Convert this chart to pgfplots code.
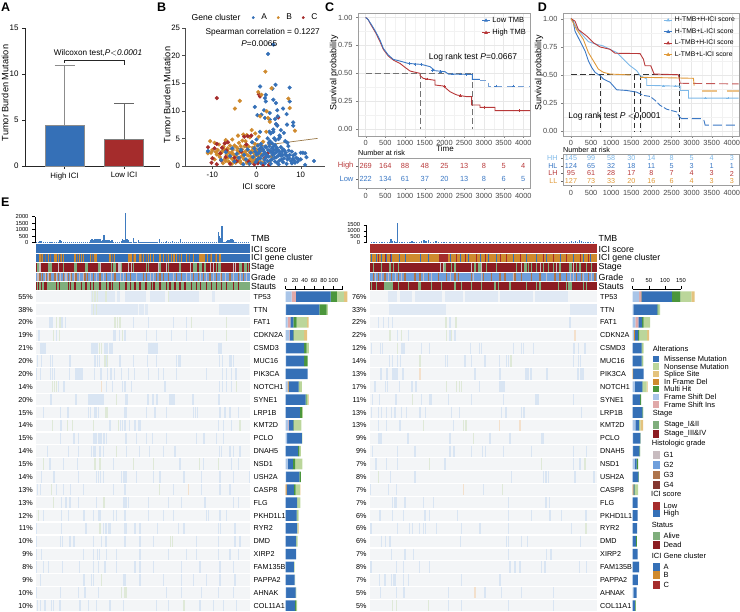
\documentclass[border=0pt]{standalone}
\usepackage{pgfplots}
\pgfplotsset{compat=1.18}
\usepackage{pgfplotstable}
\usepackage{fontspec}
\setmainfont{Liberation Sans}
\newcommand\fz[1]{\fontsize{#1}{#1}\selectfont}

\definecolor{mblue}{HTML}{3570B7}
\definecolor{mred}{HTML}{A52C2C}
\definecolor{dred}{HTML}{8C1C22}
\definecolor{agreen}{HTML}{7FAE7C}
\definecolor{aorange}{HTML}{CF8A2E}
\definecolor{gtwo}{HTML}{6F9FDC}
\definecolor{gone}{HTML}{C8BCC0}
\definecolor{gthree}{HTML}{AE744C}
\definecolor{gfour}{HTML}{84362F}
\definecolor{nons}{HTML}{BBD69B}
\definecolor{spl}{HTML}{E4C37E}
\definecolor{multi}{HTML}{4B963C}
\definecolor{fsd}{HTML}{A9C5E8}
\definecolor{fsi}{HTML}{E0A9A9}
\definecolor{rowbg}{HTML}{F3F5F7}
\definecolor{ltb}{HTML}{D9E5F3}
\definecolor{bandb}{HTML}{E0E9F4}
\definecolor{ltg}{HTML}{DFE9D8}
\definecolor{lto}{HTML}{F3E0CC}
\definecolor{brg}{HTML}{8F6F55}
\definecolor{hhc}{HTML}{7DB8E8}
\definecolor{hlc}{HTML}{3B78C4}
\definecolor{lhc}{HTML}{B8393A}
\definecolor{llc}{HTML}{E09A3A}
\definecolor{tmbc}{HTML}{3F7BBF}

% stripes: colour, width, y, half height, x list
\newcommand\st[5]{%
  \def\tmp{}%
  \pgfplotsforeachungrouped \v in {#5}{\edef\tmp{\tmp (\v,#3)}}%
  \edef\doit{\noexpand\addplot[only marks,mark=|,mark size=#4pt,mark options={draw=#1,line width=#2pt},forget plot] coordinates {\tmp};}%
  \doit}
% one stripe set on a gene row
\newcommand\rw[4]{%
  \pgfmathsetmacro\yy{-(296.7+12.875*#2)}%
  \st{#1}{#4}{\yy}{5.6}{#3}}
% background band: colour, x0, x1, y0, y1
\newcommand\bg[5]{\addplot[fill=#1,draw=none,forget plot] coordinates {(#2,-#4)(#3,-#4)(#3,-#5)(#2,-#5)} --cycle;}

\pgfplotsset{
  every axis/.append style={scale only axis,/pgf/number format/assume math mode=true,/pgf/number format/fixed},
  km/.style={
    xmin=-195,xmax=4170,ymin=-0.06,ymax=1.04,
    xtick={0,500,...,4000},ytick={0,0.25,0.5,0.75,1},
    yticklabels={0.00,0.25,0.50,0.75,1.00},
    grid=both,minor x tick num=1,minor y tick num=1,minor tick length=0pt,
    major grid style={color=black!9,line width=.5pt},minor grid style={color=black!5,line width=.3pt},
    axis line style={color=black!38,line width=.9pt},
    tick style={color=black!50},major tick length=2pt,tick pos=left,tick align=outside,
    tick label style={font=\fz{7.4},text=black!72},
    scaled x ticks=false,x tick label style={/pgf/number format/1000 sep={},yshift=1.5pt},
    clip=true},
  risk/.style={
    xmin=-195,xmax=4170,ymin=0,ymax=1,
    xtick={0,500,...,4000},
    axis line style={color=black!38,line width=.9pt},
    tick style={color=black!60},major tick length=2pt,tick pos=left,tick align=outside,
    tick label style={font=\fz{7.4},text=black!72},
    scaled x ticks=false,x tick label style={/pgf/number format/1000 sep={}},
    point meta=explicit symbolic,clip=false},
  oncotop/.style={axis x line=none,axis y line=left,axis line style={-,line width=.8pt},tick style={black,line width=.7pt},
    tick align=outside,major tick length=3pt,tick label style={font=\fz{5.8}},ymin=0,clip=false,
    scaled y ticks=false,y tick label style={/pgf/number format/1000 sep={}}},
  track/.style={axis lines=none,ymin=-612,ymax=-243,clip=false},
  stackbar/.style={xbar stacked,bar width=10.6pt,axis y line=none,axis x line=top,axis line style={-,line width=.7pt},
    tick style={black,line width=.6pt},tick align=outside,major tick length=3pt,tick label style={font=\fz{5.8}},
    xmin=0,ymin=-24.5,ymax=.598,height=323pt,clip=false,ytick=\empty},
}

\pgfplotstableread{
row fd fi ifd mis mul non spl
0 12.6 9 0 73 13 15 7
1 1 0 0 70 15 3 0
2 4 6 0 6 7 22 3
3 7 1 0 8 1 22 6
4 1 0 0 38 5 5 0
5 1 0 0 38 7 0 0
6 0 0 0 46 0 0 0
7 4 0 2 21 1 6 0
8 0 0 0 42 2 3 1
9 0 0 0 30 4 2 0
10 5 1 0 10 1 16 0
11 3 0 0 31 0 1 0
12 0 0 0 26 3 3 0
13 4 0 0 11 5 15 0
14 1 0 0 28 3 0 0
15 0 0 2 15 4 9 1
16 0 0 0 24 0 7 0
17 0 0 0 23 1 3 0
18 0 0 0 24 0 1 2
19 0 0 0 22 0 3 0
20 0 0 0 22 0 0 0
21 0 0 0 17 0 2 0
22 0 0 0 19 0 1 0
23 1 0 0 20 1 0 0
24 0 0 0 20 2 2 0
}\lefttab
\pgfplotstableread{
row fd fi ifd mis mul non spl
0 20 5 2 95 26 34 10
1 2 0 0 75 3 5 0
2 8 10 0 11 5 20 0
3 4 0 3 10 3 25 6
4 0 0 0 28 1 5 0
5 0 0 0 28 2 3 0
6 0 0 1 33 0 0 0
7 7 0 0 23 1 12 3
8 0 0 0 23 3 0 0
9 0 0 0 30 2 0 0
10 8 0 0 11 2 3 8
11 1 0 0 23 0 1 0
12 1 0 0 20 2 0 0
13 7 0 0 5 5 0 0
14 0 0 0 18 1 0 0
15 0 0 2 3 2 10 0
16 0 0 0 15 0 0 0
17 0 0 0 15 0 0 0
18 0 0 0 14 0 0 0
19 0 0 0 10 3 0 0
20 0 0 0 15 0 0 0
21 0 0 0 20 0 0 0
22 0 0 0 16 0 0 0
23 2 0 0 10 0 0 0
24 0 0 0 7 2 1 0
}\righttab

\newcommand\stackrows[1]{%
  \addplot[fill=fsd,draw=none] table[x=fd,y expr=-\thisrow{row}]{#1};
  \addplot[fill=fsi,draw=none] table[x=fi,y expr=-\thisrow{row}]{#1};
  \addplot[fill=aorange,draw=none] table[x=ifd,y expr=-\thisrow{row}]{#1};
  \addplot[fill=mblue,draw=none] table[x=mis,y expr=-\thisrow{row}]{#1};
  \addplot[fill=multi,draw=none] table[x=mul,y expr=-\thisrow{row}]{#1};
  \addplot[fill=nons,draw=none] table[x=non,y expr=-\thisrow{row}]{#1};
  \addplot[fill=spl,draw=none] table[x=spl,y expr=-\thisrow{row}]{#1};
}

\begin{document}
\begin{tikzpicture}[x=1pt,y=1pt]
\path[use as bounding box] (0,0) rectangle (740,-612);

% ---- A
\begin{axis}[at={(25pt,-166pt)},anchor=south west,width=135pt,height=138pt,
  xmin=-0.664,xmax=1.605,ymin=0,ymax=15,
  axis lines=left,axis line style={-,line width=.7pt,color=black!85},
  ytick={0,5,10,15},xtick={0,1},xticklabels={High ICI,Low ICI},
  tick align=outside,tick style={color=black!85},major tick length=3pt,
  tick label style={font=\fz{7.8}},y tick label style={font=\fz{8}},
  ybar,bar width=39pt,clip=false]
\addplot[bar shift=0pt,fill=mblue,draw=black!45,line width=.8pt,
  error bars/.cd,y dir=plus,y explicit,error bar style={black!45,line width=1.2pt},error mark options={rotate=90,mark size=10pt,black!45,line width=.9pt}]
  coordinates {(0,4.4) +- (0,6.5)};
\addplot[bar shift=0pt,fill=mred,draw=black!50,line width=.8pt,
  error bars/.cd,y dir=plus,y explicit,error bar style={black!60,line width=.8pt},error mark options={rotate=90,mark size=10pt,black!60,line width=.8pt}]
  coordinates {(1,2.85) +- (0,3.95)};
\addplot[sharp plot,black!85,line width=.7pt] coordinates {(0,11.2)(0,11.45)(1,11.45)(1,11)};
\end{axis}

% ---- B
\begin{axis}[at={(185pt,-166pt)},anchor=south west,width=140pt,height=138pt,
  xmin=-16.2,xmax=15.5,ymin=0,ymax=25,
  axis lines=left,axis line style={-,line width=.7pt,color=black!70},
  ytick={0,5,...,25},xtick={-10,0,10},
  tick align=outside,tick style={color=black!70},major tick length=3pt,
  tick label style={font=\fz{7.8}},y tick label style={xshift=1.5pt},clip=false,
  legend columns=3,legend style={at={(.72,1.075)},anchor=center,draw=none,fill=none,font=\fz{8.4},
    /tikz/every even column/.append style={column sep=8pt},/tikz/every odd column/.append style={column sep=5pt}},
  legend cell align=left,
  legend image code/.code={\draw[#1] plot coordinates {(0pt,0pt)};}]
\addlegendimage{only marks,mark=*,mark size=1.2pt,color=mblue}\addlegendentry{A}
\addlegendimage{only marks,mark=*,mark size=1.2pt,color=aorange}\addlegendentry{B}
\addlegendimage{only marks,mark=*,mark size=1.2pt,color=mred}\addlegendentry{C}
\addplot[only marks,mark=*,mark size=1.9pt,color=aorange,forget plot] coordinates {
(-3.8,11.8)(-4.9,10.4)(-1.1,6.5)(-.3,5.9)(-1.5,5.2)(-2.2,5.6)(-3,5.7)(-4.2,5.5)(-5.5,4.8)(-7,4.7)(-10.5,4.5)(-9.5,4.2)(-8.5,3.9)(-7.5,3.5)(-6.5,3.2)(-5.7,2.4)(-5,3.7)(-4,4.2)(-3.3,3)(-2.5,4.5)(-1.8,3.5)(-1,2.8)(-.4,4)(.5,5.3)(1.5,4.4)(-11,2.3)(-10,2.9)(-9,2.1)(-8.3,1.6)(-7.8,2.6)(-7.2,1.2)(-6.8,2)(-6.3,.8)(-5.8,1.5)(-5.2,2.1)(-4.7,.6)(-4.3,2.8)(-3.8,1.5)(-3.5,.5)(-3,2.3)(-2.5,1.1)(-2.1,2.9)(-1.7,.4)(-1.3,1.7)(-.8,3.3)(-.3,1.9)(.2,2.5)(.7,.9)(1.2,2.9)(1.7,1.3)(2.3,2)(2.9,.8)(3.4,1.7)(-9.5,1.2)(-8.8,2.9)(-7.4,3.1)(-6,3.7)(-5.3,1.1)(-4.5,3.4)(-3.2,4.6)(-2.7,3.6)(-1.9,1.9)(-.6,.9)(.3,3.8)(-8,2.4)(-6.6,2.6)(-5.4,2.9)(-4.9,1.9)(-4.1,.9)(-3.6,3.6)(-2.3,2.1)(-1.5,2.5)(-1.1,.7)(-.1,3)
(-7.6,.5)(-7,.9)(-6.5,1.5)(-6.1,2.3)(-5.6,.4)(-5,1)(-4.4,1.6)(-4,2.4)(-3.7,.9)(-3.3,1.8)(-2.9,1.3)(-2.6,2.6)(-2.2,.6)(-1.6,1.1)(-1,1.4)(-.7,2.4)(-.2,1.2)(.4,1.7)(.9,2.2)(1.4,.6)(-9.2,2.5)(-8.6,2)(-10.3,2.4)};
\addplot[only marks,mark=*,mark size=1.9pt,color=mred,forget plot] coordinates {
(-9,12.3)(.8,12.6)(.5,13)(4.5,7.5)(4.9,8.8)(-11,3.4)(-10,1.4)(-9.5,3.2)(-9,4)(-8.2,2.3)(-7,1.6)(-7.2,4.1)(-6.5,4.3)(-6.8,2.8)(-6,.4)(-9,.3)(-5,1.5)(-4.5,.9)(-2.8,5.3)(-2.3,3.9)(-2,5.4)(-1.8,.8)(-1.2,5.5)(-.5,.3)(.3,.5)(1,3.3)(1.5,.2)(2,1.5)(2.5,2.3)(2.8,.2)(-3.5,2.6)(-8,1)(-7.8,3.3)(-10.2,.6)};
\addplot[only marks,mark=*,mark size=1.9pt,color=mblue,forget plot] coordinates {
(3.8,22)(2.6,20.3)(4.3,14.7)(7.5,14.2)(3.6,14)(.8,14.4)(2.1,12.9)(1.9,12.3)(2.1,11.7)(3.8,12)(4.4,11.4)(7.5,11.7)(-.4,10.7)(1.7,10.1)(3,9.6)(4.7,10.1)(6,10.4)(6.8,9.4)(.2,9.2)(1.1,9.3)(4.8,9)(4.2,8.5)(1.9,8.7)(3,8.4)(4.4,7.6)(6.9,7.5)(8.3,7.9)(8.3,7.3)(2.9,6.2)(3.8,6.2)(.8,6.2)
(0,4.8)(1,4)(2,3.5)(2.5,5)(3,4.5)(3.2,5.9)(3.5,3.2)(4,5)(4.2,3.8)(4.5,2.5)(5,4.9)(5.3,5.2)(5.5,3.4)(6,3)(6.5,4.5)(7,4.2)(7.3,2.8)(8,2.6)(8.3,1.9)(8.8,2.2)(9,1.5)(9.5,1.2)(10,2.4)(10.5,2.4)(11,2.3)(11.3,1.6)(11,.2)(13,.9)(10,1.2)(9.3,.8)(8.7,.6)(8.2,1.3)(7.8,.9)(7.5,2)(7,1.2)(6.8,.4)(6.5,2.1)(6.2,1.4)(6,.7)(5.8,2.6)(5.5,1.9)(5.2,1)(5,.3)(4.8,2.9)(4.5,1.6)(4.2,.8)(4,2.2)(3.8,3.5)(3.5,1.2)(3.2,.4)(3,2.8)(2.8,1.7)(2.5,.9)(2.2,3.4)(2,2.3)(1.8,1.1)(1.5,3)(1.3,1.9)(1,.5)(.8,2.7)(.5,1.4)(.3,3.7)(0,2.1)(-.2,.7)(-.5,3.2)(-.8,1.6)(-1,4.3)(-1.3,2.4)(-1.6,.4)(-2,3)(-2.4,1.2)(-2.8,2)(-3,.3)(-3.5,2.9)(-4,1.5)(-4.5,2.2)(-5,.8)(-5.5,3.2)(-6,1.8)(-7,2.5)(-8,1.1)(-11,2.7)(6.2,6)(5.5,6.5)(4.7,7.3)(3.8,6.6)(5.2,5.5)(4.3,4.7)(3.5,4.1)(2.8,4.2)(7.2,3.6)(6.6,2.4)(5.9,2)(5.1,2.7)(4.6,3.3)(3.9,2.9)(3.3,2.5)(2.6,2.9)(2.1,1.5)(1.6,2.1)(1.1,3.4)(.6,3)(.1,1.1)
(3.1,1)(3.6,2)(4.1,1.5)(4.7,.6)(5.3,2.2)(5.7,1.2)(6.3,2.8)(6.9,1.8)(7.4,1.4)(8,.5)(8.5,1)(.9,1.4)(1.7,2.6)(2.4,1.9)(2.9,3.6)(3.7,2.5)(4.4,3)(5,1.9)(.4,2.3)(-.3,2.6)(1.9,.5)};
\addplot[only marks,mark=*,mark size=1.9pt,color=aorange,forget plot] coordinates {(2,17.1)(.4,13.4)(1.1,12.9)(7.2,12.2)(3.4,14.1)(7.5,10.5)(2.3,9.9)(.8,9)(2.6,8.7)(8.7,6.4)(3,8)(2.2,6.2)};
\addplot[color=black!40!spl!70!brown,line width=.7pt,forget plot] coordinates {(-11.5,2.4)(13.8,5)};
\end{axis}

% ---- C
\begin{axis}[km,at={(358pt,-136pt)},anchor=south west,width=172pt,height=123pt,
  legend style={at={(1,1)},anchor=north east,draw=none,fill=none,font=\fz{7.5},inner sep=1pt,row sep=1.5pt,xshift=-1pt,yshift=-1pt},
  legend cell align=left,
  legend image code/.code={\draw[mark repeat=2,mark phase=2,#1] plot coordinates {(0cm,0cm)(0.14cm,0cm)(0.28cm,0cm)};}]
\addlegendimage{hlc,line width=.9pt,mark=triangle*,mark size=1.3pt}\addlegendentry{Low TMB}
\addlegendimage{lhc,line width=.9pt,mark=triangle*,mark size=1.3pt}\addlegendentry{High TMB}
\addplot[black!55,line width=1.1pt,dash pattern=on 6pt off 3pt,forget plot] coordinates {(0,.5)(2700,.5)};
\addplot[black!55,line width=1.1pt,dash pattern=on 6pt off 3pt,forget plot] coordinates {(1400,.5)(1400,0)};
\addplot[black!55,line width=1.1pt,dash pattern=on 6pt off 3pt,forget plot] coordinates {(2700,.5)(2700,0)};
\addplot[lhc,line width=.9pt,forget plot] coordinates {(0,1)(60,.982)(152,.923)(254,.863)(364,.783)(448,.714)(575,.655)(702,.619)(871,.589)(998,.554)(1125,.521)(1379,.5)(1379,.48)(1463,.455)(1717,.44)(1760,.44)(1760,.396)(1971,.387)(1971,.387)(2140,.336)(2310,.307)(2563,.292)(2690,.292)(2690,.217)(2902,.217)(2902,.196)(3282,.196)(3282,.167)(3325,.167)(4170,.167)};
\addplot[hlc,line width=.9pt,forget plot] coordinates {(0,1)(60,.982)(152,.932)(254,.872)(364,.798)(448,.723)(575,.664)(702,.625)(871,.61)(1083,.589)(1421,.58)(1633,.56)(1760,.524)(2013,.515)(2098,.494)(2648,.491)(2707,.491)(2707,.446)(2900,.446)};
\addplot[hlc!70,line width=.9pt,dash pattern=on 6pt off 5pt,forget plot] coordinates {(2900,.44)(3113,.44)(3113,.387)(4170,.387)};
\addplot[only marks,mark=+,mark size=1.3pt,hlc,forget plot] coordinates {(1100,.589)(1250,.58)(1400,.58)(1700,.524)(1900,.515)(2200,.494)(2400,.494)(2550,.491)(3300,.387)(3750,.387)};
\addplot[only marks,mark=+,mark size=1.3pt,lhc,forget plot] coordinates {(1550,.45)(2000,.385)(2400,.3)(3000,.196)(3900,.167)};
\end{axis}
\begin{axis}[risk,at={(358pt,-188pt)},anchor=south west,width=172pt,height=30pt,
  ytick={.3,.733},yticklabels={\textcolor{hlc}{Low},\textcolor{lhc}{High}},y tick label style={font=\fz{7.6},xshift=1pt},
  nodes near coords,only marks,mark=none]
\addplot[draw=none,every node near coord/.append style={anchor=center,inner sep=0pt,font=\fz{7.4},text=lhc}] coordinates {(0,.733)[269](500,.733)[164](1000,.733)[88](1500,.733)[48](2000,.733)[25](2500,.733)[13](3000,.733)[8](3500,.733)[5](4000,.733)[4]};
\addplot[draw=none,every node near coord/.append style={anchor=center,inner sep=0pt,font=\fz{7.4},text=hlc}] coordinates {(0,.3)[222](500,.3)[134](1000,.3)[61](1500,.3)[37](2000,.3)[20](2500,.3)[13](3000,.3)[8](3500,.3)[6](4000,.3)[5]};
\end{axis}

% ---- D
\begin{axis}[km,at={(563pt,-136pt)},anchor=south west,width=176pt,height=123pt,
  xmin=-199,xmax=4179,ymin=-0.044,ymax=1.05,
  legend style={at={(1,1)},anchor=north east,draw=none,fill=none,font=\fz{6.8},inner sep=1pt,row sep=1.2pt,xshift=-1pt,yshift=-1pt},
  legend cell align=left,
  legend image code/.code={\draw[mark repeat=2,mark phase=2,#1] plot coordinates {(0cm,0cm)(0.15cm,0cm)(0.3cm,0cm)};}]
\addlegendimage{hhc,line width=.9pt,mark=triangle*,mark size=1.3pt}\addlegendentry{H-TMB+H-ICI score}
\addlegendimage{hlc,line width=.9pt,mark=triangle*,mark size=1.3pt}\addlegendentry{H-TMB+L-ICI score}
\addlegendimage{lhc,line width=.9pt,mark=triangle*,mark size=1.3pt}\addlegendentry{L-TMB+H-ICI score}
\addlegendimage{llc,line width=.9pt,mark=triangle*,mark size=1.3pt}\addlegendentry{L-TMB+L-ICI score}
\addplot[black!80,line width=.9pt,dash pattern=on 6pt off 3pt,forget plot] coordinates {(0,.5)(2700,.5)};
\addplot[black!80,line width=.9pt,dash pattern=on 5pt off 3pt,forget plot] coordinates {(739,.5)(739,0)};
\addplot[black!80,line width=.9pt,dash pattern=on 5pt off 3pt,forget plot] coordinates {(1577,.5)(1577,0)};
\addplot[black!80,line width=.9pt,dash pattern=on 5pt off 3pt,forget plot] coordinates {(1718,.5)(1718,0)};
\addplot[black!80,line width=.9pt,dash pattern=on 5pt off 3pt,forget plot] coordinates {(2698,.5)(2698,0)};
\addplot[hhc,line width=.9pt,forget plot] coordinates {(0,1)(50,.982)(141,.918)(307,.845)(432,.795)(639,.771)(805,.757)(971,.727)(1137,.698)(1303,.639)(1469,.581)(1635,.537)(1718,.493)(1884,.463)(1884,.405)(2050,.405)(2673,.399)(2714,.399)(2714,.361)(2897,.361)(2922,.361)(2922,.293)(4170,.293)};
\addplot[only marks,mark=+,mark size=1.3pt,hhc,forget plot] coordinates {(2300,.402)(2600,.399)(3350,.293)(3900,.293)};
\addplot[hlc,line width=.9pt,forget plot] coordinates {(0,1)(50,.98)(100,.889)(224,.801)(349,.713)(432,.625)(515,.566)(598,.522)(722,.493)(805,.463)(971,.434)(1137,.367)(1386,.361)(1635,.346)};
\addplot[hlc,line width=.9pt,dash pattern=on 6pt off 2pt,forget plot] coordinates {(1635,.346)(1801,.317)(1967,.308)(2092,.273)(2216,.229)(2382,.194)(2631,.17)(2698,.126)};
\addplot[hlc,line width=.9pt,dash pattern=on 9pt off 4pt,forget plot] coordinates {(2698,.126)(2750,.111)(3295,.111)(3337,.053)(4170,.053)};
\addplot[lhc,line width=.9pt,forget plot] coordinates {(0,1)(100,.977)(183,.903)(390,.845)(556,.786)(722,.748)(971,.727)(1095,.692)(1718,.689)(1801,.639)(1843,.581)(1984,.581)(2067,.507)(2673,.501)(2714,.425)};
\addplot[lhc!85,line width=.9pt,dash pattern=on 9pt off 4pt,forget plot] coordinates {(2714,.425)(4170,.419)};
\addplot[llc,line width=.9pt,forget plot] coordinates {(0,1)(141,.903)(307,.815)(432,.698)(556,.625)(681,.551)(805,.522)(971,.507)(1469,.499)};
\addplot[llc,line width=.9pt,forget plot] coordinates {(1718,.478)(2673,.472)(3046,.469)(3063,.405)};
\addplot[llc!60,line width=2pt,forget plot] coordinates {(3254,.355)(3620,.355)};
\addplot[llc!60,line width=2pt,forget plot] coordinates {(3870,.355)(4170,.355)};
\end{axis}
\begin{axis}[risk,at={(563pt,-185pt)},anchor=south west,width=176pt,height=31pt,
  xmin=-199,xmax=4179,
  ytick={154,161.5,169,176.5},yticklabels={\textcolor{llc}{LL},\textcolor{lhc}{LH},\textcolor{hlc}{HL},\textcolor{hhc}{HH}},y tick label style={font=\fz{7.2}},
  nodes near coords,only marks,mark=none,
  ymin=150,ymax=181]
\addplot[draw=none,every node near coord/.append style={anchor=center,inner sep=0pt,font=\fz{7.2},text=hhc}] coordinates {(0,176.5)[145](500,176.5)[99](1000,176.5)[58](1500,176.5)[30](2000,176.5)[14](2500,176.5)[8](3000,176.5)[5](3500,176.5)[4](4000,176.5)[3]};
\addplot[draw=none,every node near coord/.append style={anchor=center,inner sep=0pt,font=\fz{7.2},text=hlc}] coordinates {(0,169)[124](500,169)[65](1000,169)[32](1500,169)[18](2000,169)[11](2500,169)[5](3000,169)[3](3500,169)[1](4000,169)[1]};
\addplot[draw=none,every node near coord/.append style={anchor=center,inner sep=0pt,font=\fz{7.2},text=lhc}] coordinates {(0,161.5)[95](500,161.5)[61](1000,161.5)[28](1500,161.5)[17](2000,161.5)[8](2500,161.5)[7](3000,161.5)[4](3500,161.5)[3](4000,161.5)[2]};
\addplot[draw=none,every node near coord/.append style={anchor=center,inner sep=0pt,font=\fz{7.2},text=llc}] coordinates {(0,154)[127](500,154)[73](1000,154)[33](1500,154)[20](2000,154)[16](2500,154)[6](3000,154)[4](3500,154)[3](4000,154)[3]};
\end{axis}

% ---- E left, TMB
\begin{axis}[oncotop,at={(35pt,-242.7pt)},anchor=south west,width=215pt,height=26pt,xmin=105,xmax=750,ymax=2000,ytick={0,500,1000,1500,2000}]
\addplot[ycomb,tmbc,line width=1.3pt] coordinates {(110,60)(116,70)(120,130)(125,110)(130,80)(136,40)(142,30)(148,70)(153,60)(158,50)(164,30)(170,30)(176,20)(180,180)(185,110)(190,70)(196,30)(202,20)(208,40)(214,20)(220,30)(226,30)(232,20)(238,30)(244,20)(250,30)(256,20)(262,40)(268,80)(272,220)(276,250)(280,200)(284,290)(288,250)(292,320)(296,260)(300,270)(304,150)(308,220)(312,580)(316,200)(320,240)(324,180)(328,200)(332,130)(336,220)(340,90)(346,60)(352,50)(358,60)(364,140)(368,250)(372,200)(376,2300)(381,250)(385,180)(390,60)(395,80)(400,350)(405,40)(410,50)(415,170)(420,30)(426,20)(432,30)(438,60)(444,40)(450,20)(456,30)(462,20)(468,30)(473,40)(478,300)(484,40)(490,20)(496,30)(500,140)(506,30)(512,20)(518,110)(524,40)(530,60)(536,20)(542,300)(548,40)(554,20)(560,30)(566,20)(572,30)(578,40)(584,30)(590,20)(596,30)(602,20)(608,30)(614,20)(620,30)(626,60)(632,20)(638,30)(644,20)(650,60)(655,800)(659,550)(663,350)(666,1300)(670,90)(675,60)(680,130)(684,190)(688,210)(692,260)(696,300)(700,170)(705,60)(710,40)(716,70)(722,30)(728,40)(734,30)(740,50)(746,30)};
\end{axis}
% ---- E right, TMB
\begin{axis}[oncotop,at={(366.7pt,-242.7pt)},anchor=south west,width=230pt,height=17.7pt,xmin=80,xmax=770,ymax=1500,ytick={0,500,1000,1500}]
\addplot[ycomb,tmbc,line width=1.1pt] coordinates {(95,20)(102,30)(110,20)(118,40)(126,30)(134,20)(142,50)(148,90)(153,300)(158,180)(163,120)(168,90)(172,1650)(178,40)(186,30)(194,50)(202,80)(210,100)(216,170)(222,90)(230,40)(238,30)(245,160)(252,210)(258,110)(265,200)(272,70)(280,50)(288,120)(296,100)(304,60)(312,40)(320,60)(330,40)(340,50)(350,30)(360,50)(370,30)(380,70)(390,40)(400,60)(410,30)(420,40)(430,50)(440,30)(450,40)(460,30)(470,40)(480,30)(490,50)(500,30)(510,40)(520,30)(530,50)(540,30)(550,40)(560,30)(570,30)(580,40)(590,30)(600,40)(610,30)(620,30)(630,40)(640,30)(650,30)(660,40)(670,30)(680,40)(688,100)(694,130)(700,100)(706,150)(712,90)(718,260)(724,130)(730,100)(736,60)(744,50)(752,40)(760,30)};
\end{axis}

% ---- E left tracks and rows
\begin{axis}[track,at={(35.67pt,-612pt)},anchor=south west,width=214.33pt,height=369pt,xmin=107,xmax=750]
\bg{mblue}{107}{750}{244}{252.7}
\bg{mblue}{107}{750}{253.8}{262.3}
\bg{dred}{107}{750}{263}{271.7}
\bg{gtwo}{107}{750}{272.7}{281}
\bg{agreen}{107}{750}{281.8}{290.2}
\st{aorange}{1.3}{-258}{4.2}{120,128,145,165,170,175,185,190,225,238,245,250,272,285,290,330,343,385,390,395,405,420,430,445,452,460,480,490,505,515,522,530,545,560,580,598,603,608,612,623,635,650,660}
\st{brg}{1}{-258}{4.2}{125,135,150,180,232,278,338,400,425,440,500,538,568,630,645}
\st{agreen}{1.2}{-267.3}{4.3}{112,115,118,145,150,155,190,225,228,258,262,295,300,335,340,345,365,400,440,445,480,500,505,540,580,585,590,600,605,615,650,655,660,720,725,735,740,745}
\st{gone}{1}{-267.3}{4.3}{118,122,175,300,355,358,362,385,395,475,498,570,630,640,700,705}
\st{gthree}{1.1}{-276.8}{4.1}{120,128,140,150,165,175,190,205,215,228,255,262,280,300,320,345,380,392,430,440,470,480,490,505,530,545,580,595,610,630,650,665,690,715,730}
\st{gone}{1}{-276.8}{4.1}{112,116,135,145,170,182,195,200,210,222,238,250,270,290,310,335,360,370,410,450,460,520,560,570,600,620,640,660,675,700,720,740}
\st{dred}{1.2}{-286}{4.2}{110,115,125,135,140,170,178,205,212,225,245,258,272,280,300,320,330,338,358,378,392,405,420,438,455,462,480,500,510,525,540,555,575,590,602,620,635,650,665,680,700,715}
\pgfplotsinvokeforeach{0,...,24}{
  \pgfmathsetmacro\ya{296.7+12.875*#1-5.7}
  \pgfmathsetmacro\yb{296.7+12.875*#1+5.7}
  \bg{rowbg}{107}{750}{\ya}{\yb}
}
\rw{bandb}{0}{277,286,295,304,313,322,331,340,355,380,389,398,407,416,425,434,455,464,473,482,491,510,519,528,537,546,555,564,573,582,591,640}{3}
\rw{ltg}{0}{278,285,292,318,505}{1.2}
\rw{bandb}{1}{277,286,295,304,313,322,331,340,349,358,367,376,385,394,403,410,420,428,438,660,669,678,687,696,705,714,723,732,741}{3}
\rw{ltg}{1}{280,290}{1.2}
\rw{ltb}{2}{150,156,186,196,400,445,520,560}{1.3}
\rw{ltg}{2}{170,180,345,352,360,575,680}{1.6}
\rw{ltb}{3}{115,118,170,340,345,358,375,440,470,515,560,610}{1.2}
\rw{ltg}{3}{160,178,367,680}{1.6}
\rw{ltb}{4}{122,128,134,275,280,285,292,315,322,330,336,447,453,459,465,471,657,663}{1.7}
\rw{ltg}{4}{298,305}{1.6}
\rw{ltb}{5}{112,125,152,157,208,212,285,292,298,320,360,400,443,470,530,535,540,658,668,690,695,700}{1.5}
\rw{ltg}{5}{315,322}{1.6}
\rw{ltb}{6}{110,122,152,158,164,208,228,234,240,246,283,303,323,333,343,365,385,403,445,475,490,530,620,668,680,695,708}{1.5}
\rw{ltb}{7}{175,192,320,338,367,375,395,495,658,668,680,695}{1.2}
\rw{ltg}{7}{157,163,170,710}{1.4}
\rw{lto}{7}{305}{1.2}
\rw{ltb}{8}{153,228,266,272,278,284,290,296,302,308,378,382,445,458,472,510,516,522,580,658}{1.7}
\rw{ltg}{8}{350}{1.5}
\rw{ltb}{9}{130,182,204,206,265,272,283,288,295,375,380,440,465,500,580,586,592,660,675,690,715}{1.5}
\rw{ltg}{9}{318,322}{1.5}
\rw{ltb}{10}{183,330,362,368,375,388,405,415,420,655,670,695}{1.1}
\rw{ltg}{10}{157,203,218,280,355,720}{1.2}
\rw{ltb}{11}{182,222,236,280,285,290,295,300,305,312,320,378,410,440,458,500,590,612,650,670}{1.5}
\rw{ltb}{12}{142,205,236,275,280,285,300,310,380,418,448,490,525,658,664,690,700,720}{1.5}
\rw{ltg}{12}{350}{1.2}
\rw{ltb}{13}{150,190,232,340,540,610,695,715}{1.2}
\rw{ltg}{13}{130,285,300,400,460,598,655}{1.4}
\rw{ltb}{14}{125,162,236,290,296,302,310,365,372,378,410,460,480,552,605,660,700,748}{1.4}
\rw{ltb}{15}{112,122,170,190,212,250,340,375,520,605,660,690}{1.3}
\rw{ltg}{15}{155,478}{1.1}
\rw{lto}{15}{565}{1.1}
\rw{ltb}{16}{185,198,210,235,290,372,378,385,445,505,545,615,700,715}{1.2}
\rw{ltg}{16}{160,312}{1.1}
\rw{ltb}{17}{130,185,205,252,280,295,300,340,350,375,445,490,520,620,625,660,680}{1.3}
\rw{ltg}{17}{115}{1.2}
\rw{ltb}{18}{110,185,258,310,318,325,330,375,380,405,420,472,535,552,655,662,705}{1.3}
\rw{ltg}{18}{300}{1.1}
\rw{ltb}{19}{110,182,188,210,222,280,305,318,375,420,460,590,655,705,720}{1.3}
\rw{ltg}{19}{512,518}{1.2}
\rw{ltb}{20}{110,125,250,280,292,298,320,350,420,505,560,590,655,690,715}{1.3}
\rw{ltb}{21}{110,130,145,188,238,280,295,315,350,405,420,460,545,600,660,700}{1.1}
\rw{ltb}{22}{122,252,275,280,370,375,420,490,545,580,620,660,705}{1.1}
\rw{ltg}{22}{305}{1.1}
\rw{ltb}{23}{110,182,235,255,295,500,545,605,655,700}{1.1}
\rw{ltg}{23}{365,375,380}{1.3}
\rw{ltb}{24}{112,122,135,155,160,180,240,265,290,330,370,470,505,600,640,670,710}{1.1}
\rw{ltg}{24}{552}{1.1}
\end{axis}

% ---- E right tracks and rows
\begin{axis}[track,at={(370pt,-612pt)},anchor=south west,width=226.67pt,height=369pt,xmin=90,xmax=770]
\bg{mred}{90}{770}{244}{252.7}
\bg{aorange}{90}{770}{253.8}{262.3}
\bg{dred}{90}{770}{263}{271.7}
\bg{gtwo}{90}{770}{272.7}{281}
\bg{dred}{90}{770}{281.8}{290.2}
\st{mred}{3}{-258}{4.2}{300,309,318}
\st{mblue}{1}{-258}{4.2}{95,108,125,140,155,178,195,240,265,330,360,385,420,445,470,520,560,590,620,660,700,730,750}
\st{mred}{1}{-258}{4.2}{115,135,150,350,375,410,435,480,500,540,610,640,680,720,745}
\st{agreen}{1.2}{-267.3}{4.3}{100,125,150,160,175,315,335,345,405,415,420,440,470,530,555,560,565,575,590,610,625,640,660,690,695,710,720,740,755}
\st{gone}{1}{-267.3}{4.3}{300,310,395,425,545,600,650,700}
\st{gthree}{1.1}{-276.8}{4.1}{100,115,135,155,175,195,225,240,265,295,320,345,355,395,430,455,480,495,525,545,575,600,645,660,680,710,725,745,765}
\st{gone}{1}{-276.8}{4.1}{105,125,145,165,185,250,275,330,400,425,520,620,690,700,730,755}
\st{agreen}{3}{-286}{4.2}{137,146,155}
\st{agreen}{1.3}{-286}{4.2}{95,110,175,205,235,240,275,305,345,365,395,425,465,475,510,560,590,600,655,680,685,690,695,730,740}
\pgfplotsinvokeforeach{0,...,24}{
  \pgfmathsetmacro\ya{296.7+12.875*#1-5.7}
  \pgfmathsetmacro\yb{296.7+12.875*#1+5.7}
  \bg{rowbg}{90}{770}{\ya}{\yb}
}
\rw{bandb}{0}{147,156,165,184,193,202,211,230,239,248,257,266,275,284,293,302,320,329,338,347,356,365,380,389,398,407,416,425,434,443,452,461,470,485,494,503,512,521,530,539,548,557,566,575,590,599,608,617,626,635,644,653,662,671,680}{3}
\rw{bandb}{1}{150,159,168,177,186,195,204,213,222,231,240,249,258,267,276,285,294,303,312,695,704,713,722,731,740,749,758,765}{3}
\rw{ltb}{2}{115,130,145,158,330,690}{1.3}
\rw{ltg}{2}{318,348}{1.4}
\rw{ltb}{3}{172,205,330,345}{1.2}
\rw{ltg}{3}{150,185,320,335}{1.5}
\rw{lto}{3}{705}{1.2}
\rw{ltb}{4}{95,122,128,186,192,245,268,392,418,425,520,545,550,580,702,715,735}{1.4}
\rw{ltg}{4}{172}{1.2}
\rw{ltb}{5}{148,158,172,182,316,322,375,395,435,478,500,506,700,716,722}{1.4}
\rw{ltg}{5}{240,512}{1.8}
\rw{ltb}{6}{122,142,158,165,172,190,405,480,558,565,572,620,715,722,728}{1.7}
\rw{lto}{6}{240}{1.1}
\rw{ltb}{7}{105,137,143,178,216,226,230,418,480,486,492}{1.6}
\rw{ltg}{7}{320,350,358,365}{1.5}
\rw{ltb}{8}{97,118,168,245,270,275,325,395,490,588,594,700}{1.4}
\rw{ltg}{8}{218}{1.1}
\rw{ltb}{9}{95,115,125,140,155,165,185,200,240,256,335,358,485,498,545,552,725}{1.4}
\rw{ltb}{10}{115,140,180,340}{1.2}
\rw{ltg}{10}{250,370,378}{1.6}
\rw{lto}{10}{478,540}{1.2}
\rw{ltb}{11}{118,124,204,330,450,510,605,610}{1.8}
\rw{ltg}{11}{400}{1.1}
\rw{ltb}{12}{97,172,225,330,342,395,428,436,490,575,700,740}{1.4}
\rw{ltb}{13}{108,140,172,315,700,720}{1.3}
\rw{ltg}{13}{268,605,735}{1.3}
\rw{ltb}{14}{152,225,515,610,618,625,705,762}{1.4}
\rw{ltg}{14}{115}{1.1}
\rw{ltb}{15}{92,145,170,430}{1.2}
\rw{ltg}{15}{488}{1.1}
\rw{lto}{15}{370}{1.1}
\rw{ltb}{16}{158,165,170,195,250,280,505,618,628}{1.4}
\rw{ltb}{17}{120,158,190,255,268,352,505,575,630,665,738}{1.2}
\rw{ltb}{18}{93,172,208,218,238,250,256,290,365,420,505,695}{1.4}
\rw{ltg}{18}{738}{1.1}
\rw{ltb}{19}{125,137,150,362,500,505,545,562,722}{1.4}
\rw{ltb}{20}{155,195,220,505,620,633}{1.3}
\rw{ltb}{21}{93,170,190,238,268,510,525,540,605,615,718,740}{1.3}
\rw{ltb}{22}{118,135,155,160,165,190,205,365,480}{1.1}
\rw{ltb}{23}{122,170,192,325,435,485,545,640}{1.1}
\rw{lto}{23}{405}{1.1}
\rw{ltb}{24}{325,365,505,640}{1.1}
\rw{ltg}{24}{157,170,265}{1.2}
\end{axis}

% ---- E stacked bars
\begin{axis}[stackbar,at={(285.7pt,-612pt)},anchor=south west,width=57pt,xmax=120,xtick={0,20,...,120},xticklabels={0,20,40,60,80,100,{}}]
\stackrows{\lefttab}
\end{axis}
\begin{axis}[stackbar,at={(632.7pt,-612pt)},anchor=south west,width=48.3pt,xmax=150,xtick={0,50,100,150}]
\stackrows{\righttab}
\end{axis}

% ---- text
\foreach \t/\x/\y in {A/1/7,B/157/7,C/325/7,D/537.7/7,E/1/202}
  \node[anchor=west,inner sep=0pt,font=\fz{12.5}\bfseries] at (\x,-\y) {\t};

\node[rotate=90,inner sep=0pt,font=\fz{9.2}] at (5,-93) {Tumor Burden Mutation};
\node[inner sep=0pt,font=\fz{8.2}] at (98,-53) {Wilcoxon test,\textit{P$<$0.0001}};

\node[rotate=90,inner sep=0pt,font=\fz{9.2}] at (167,-95) {Tumor Burden Mutation};
\node[inner sep=0pt,font=\fz{8.6}] at (216,-17.7) {Gene cluster};
\node[inner sep=0pt,font=\fz{8.3}] at (262.7,-32) {Spearman correlation = 0.1227};
\node[inner sep=0pt,font=\fz{8.3}] at (259.3,-43.7) {\textit{P}=0.0065};
\node[inner sep=0pt,font=\fz{8.3}] at (259,-186.7) {ICI score};

\node[rotate=90,inner sep=0pt,font=\fz{9}] at (334,-73) {Survival probability};
\node[inner sep=0pt,font=\fz{8.5}] at (473,-57) {Log rank test \textit{P}=0.0667};
\node[inner sep=0pt,font=\fz{8}] at (445,-149) {Time};
\node[anchor=west,inner sep=0pt,font=\fz{7.2}] at (358,-153.3) {Number at risk};

\node[rotate=90,inner sep=0pt,font=\fz{9}] at (539,-73) {Survival probability};
\node[inner sep=0pt,font=\fz{8.5}] at (614.5,-116.7) {Log rank test \textit{P} $<$0.0001};
\node[anchor=west,inner sep=0pt,font=\fz{7.2}] at (563,-150) {Number at risk};

\foreach \t/\y in {TMB/238,ICI score/249,ICI gene cluster/258.5,Stage/267.3,Grade/277,Stauts/286}{
  \node[anchor=west,inner sep=0pt,font=\fz{8.8}] at (251,-\y) {\t};
  \node[anchor=west,inner sep=0pt,font=\fz{8.8}] at (598.5,-\y) {\t};
}
\foreach \g/\a/\b [count=\i from 0] in {TP53/55/76,TTN/38/33,FAT1/20/22,CDKN2A/19/22,CSMD3/21/12,MUC16/20/14,PIK3CA/20/13,NOTCH1/14/17,SYNE1/20/11,LRP1B/15/13,KMT2D/14/13,PCLO/15/9,DNAH5/14/9,NSD1/15/7,USH2A/14/8,CASP8/13/7,FLG/13/7,PKHD1L1/12/6,RYR2/11/6,DMD/10/6,XIRP2/9/7,FAM135B/8/8,PAPPA2/9/7,AHNAK/10/5,COL11A1/10/5}{
  \pgfmathsetmacro\yy{-(296.7+12.875*\i)}
  \node[anchor=east,inner sep=0pt,font=\fz{7.2}] at (33,\yy) {\a\%};
  \node[anchor=west,inner sep=0pt,font=\fz{7.2}] at (253.5,\yy) {\g};
  \node[anchor=east,inner sep=0pt,font=\fz{7.2}] at (366.7,\yy) {\b\%};
  \node[anchor=west,inner sep=0pt,font=\fz{7.2}] at (600,\yy) {\g};
}

% ---- legend E
\newcommand\lt[3]{\node[anchor=west,inner sep=0pt,font=\fz{7.5}] at (#1,-#2) {#3};}
\lt{652.7}{349}{Alterations}
\foreach \c/\t/\y in {mblue/Missense Mutation/359,nons/Nonsense Mutation/366.7,spl/Splice Site/374.3,aorange/In Frame Del/382,multi/Multi Hit/389.3,fsd/Frame Shift Del/397.3,fsi/Frame Shift Ins/404.7}{
  \fill[\c] (653.3,{-\y-3.2}) rectangle (659.3,{-\y+3.2});
  \node[anchor=west,inner sep=0pt,font=\fz{7.5}] at (664,-\y) {\t};
}
\lt{652.7}{414}{Stage}
\foreach \c/\t/\y in {agreen/Stage\_I\&II/425,dred/Stage\_III\&IV/434}{
  \fill[\c] (653.3,{-\y-4}) rectangle (659.3,{-\y+4});
  \node[anchor=west,inner sep=0pt,font=\fz{7.5}] at (664,-\y) {\t};
}
\lt{651.7}{443.7}{Histologic grade}
\foreach \c/\t/\y in {gone/G1/455,gtwo/G2/465,gthree/G3/474.7,gfour/G4/484.7}{
  \fill[\c] (652.7,{-\y-4}) rectangle (660,{-\y+4});
  \node[anchor=west,inner sep=0pt,font=\fz{7.5}] at (663.3,-\y) {\t};
}
\lt{651}{494.3}{ICI score}
\foreach \c/\t/\y in {mred/Low/505.7,mblue/High/513.3}{
  \fill[\c] (652.7,{-\y-4}) rectangle (660,{-\y+3.6});
  \node[anchor=west,inner sep=0pt,font=\fz{7.5}] at (663.3,-\y) {\t};
}
\lt{651.7}{525}{Status}
\foreach \c/\t/\y in {agreen/Alive/535.7,dred/Dead/544.7}{
  \fill[\c] (652.7,{-\y-4}) rectangle (660,{-\y+4});
  \node[anchor=west,inner sep=0pt,font=\fz{7.5}] at (663.3,-\y) {\t};
}
\lt{651.7}{555.7}{ICI Gene cluster}
\foreach \c/\t/\y in {mblue/A/566.7,aorange/B/575.3,mred/C/584.7}{
  \fill[\c] (652.7,{-\y-4}) rectangle (660,{-\y+4});
  \node[anchor=west,inner sep=0pt,font=\fz{7.5}] at (663.3,-\y) {\t};
}
\end{tikzpicture}
\end{document}
